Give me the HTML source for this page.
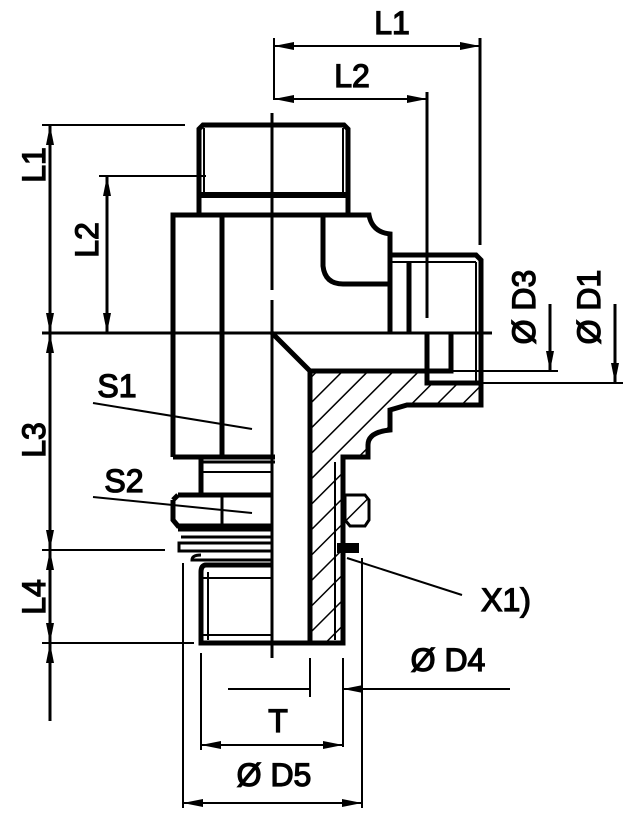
<!DOCTYPE html>
<html><head><meta charset="utf-8"><style>
html,body{margin:0;padding:0;background:#fff}
svg{display:block}
text{font-family:"Liberation Sans",sans-serif;font-size:32px;fill:#000;stroke:#000;stroke-width:1.3}
</style></head><body>
<svg width="629" height="819" viewBox="0 0 629 819" xmlns="http://www.w3.org/2000/svg">
<defs>
<marker id="a" viewBox="0 0 20 8" refX="20" refY="4" markerWidth="20" markerHeight="8" markerUnits="userSpaceOnUse" orient="auto"><path d="M0,0 L20,4 L0,8 z" fill="#000"/></marker>
<pattern id="h" patternUnits="userSpaceOnUse" width="18" height="18" patternTransform="rotate(-45)"><rect width="18" height="18" fill="#fff"/><line x1="0" y1="0" x2="18" y2="0" stroke="#000" stroke-width="3"/></pattern>
</defs>
<g stroke="#000" fill="none">
<line x1="272" y1="113" x2="272" y2="290" stroke-width="3"/>
<line x1="272" y1="300" x2="272" y2="658" stroke-width="3"/>
<line x1="42" y1="333" x2="492" y2="333" stroke-width="3"/>
<line x1="274" y1="38" x2="274" y2="100" stroke-width="2"/>
<line x1="480" y1="38" x2="480" y2="245" stroke-width="3"/>
<line x1="300" y1="46" x2="455" y2="46" stroke-width="2"/>
<line x1="330" y1="46" x2="274" y2="46" stroke-width="2" marker-end="url(#a)"/>
<line x1="420" y1="46" x2="480" y2="46" stroke-width="2" marker-end="url(#a)"/>
<line x1="330" y1="99" x2="274" y2="99" stroke-width="2" marker-end="url(#a)"/>
<line x1="330" y1="99" x2="427" y2="99" stroke-width="2" marker-end="url(#a)"/>
<line x1="427" y1="92" x2="427" y2="318" stroke-width="3"/>
<line x1="42" y1="125" x2="185" y2="125" stroke-width="2"/>
<line x1="99" y1="176" x2="206" y2="176" stroke-width="2"/>
<line x1="50" y1="230" x2="50" y2="125" stroke-width="3" marker-end="url(#a)"/>
<line x1="50" y1="230" x2="50" y2="333" stroke-width="3" marker-end="url(#a)"/>
<line x1="107" y1="250" x2="107" y2="176" stroke-width="3" marker-end="url(#a)"/>
<line x1="107" y1="250" x2="107" y2="333" stroke-width="3" marker-end="url(#a)"/>
<line x1="50" y1="440" x2="50" y2="333" stroke-width="3" marker-end="url(#a)"/>
<line x1="50" y1="440" x2="50" y2="550" stroke-width="3" marker-end="url(#a)"/>
<line x1="50" y1="600" x2="50" y2="550" stroke-width="3" marker-end="url(#a)"/>
<line x1="50" y1="600" x2="50" y2="643" stroke-width="3" marker-end="url(#a)"/>
<line x1="50" y1="721" x2="50" y2="643" stroke-width="3" marker-end="url(#a)"/>
<line x1="42" y1="550" x2="165" y2="550" stroke-width="2"/>
<line x1="42" y1="643" x2="194" y2="643" stroke-width="2"/>
<line x1="444" y1="371" x2="558" y2="371" stroke-width="2"/>
<line x1="454" y1="383" x2="623" y2="383" stroke-width="2"/>
<line x1="550" y1="304" x2="550" y2="371" stroke-width="3" marker-end="url(#a)"/>
<line x1="615" y1="304" x2="615" y2="383" stroke-width="3" marker-end="url(#a)"/>
<path d="M199,213 L199,129 L203,125 L344,125 L348,129 L348,213" stroke-width="5"/>
<line x1="199" y1="195" x2="348" y2="195" stroke-width="6"/>
<line x1="204" y1="128" x2="204" y2="195" stroke-width="2"/>
<line x1="343" y1="128" x2="343" y2="195" stroke-width="2"/>
<path d="M173,457 L173,215 L369,215 Q372,232 390,234 L390,333" stroke-width="5"/>
<line x1="222" y1="215" x2="222" y2="457" stroke-width="5"/>
<path d="M323,215 L323,266 Q325,284 343,284 L390,284" stroke-width="5"/>
<path d="M390,255 L476,255 L481,260 L481,405 L407,405" stroke-width="5"/>
<line x1="390" y1="262" x2="476" y2="262" stroke-width="2"/>
<line x1="409" y1="262" x2="409" y2="333" stroke-width="5"/>
<line x1="476" y1="262" x2="476" y2="400" stroke-width="2"/>
<path d="M427,333 L427,371 L451,371 L451,333" stroke-width="5"/>
<line x1="451" y1="383" x2="481" y2="388" stroke-width="2"/>
<path d="M310,643 L310,371 L427,371 L427,383 L481,383 L481,405 L407,405 L390,410 L390,430 Q368,432 368,445 L368,457 L343,457 L343,643 Z" fill="url(#h)" stroke-width="5"/>
<line x1="335" y1="462" x2="335" y2="640" stroke-width="2"/>
<path d="M272,333 L310,371" stroke-width="5"/>
<line x1="173" y1="457" x2="275" y2="457" stroke-width="5"/>
<line x1="201" y1="462" x2="275" y2="462" stroke-width="3"/>
<line x1="201" y1="457" x2="201" y2="495" stroke-width="5"/>
<line x1="201" y1="472" x2="272" y2="472" stroke-width="2"/>
<path d="M178,495 L272,495 M173,500 L173,520 L178,526 L272,526 M173,500 L178,495" stroke-width="5"/>
<line x1="222" y1="495" x2="222" y2="526" stroke-width="3"/>
<path d="M178,530 L272,530 M181,537 L272,537 M179,543 L272,543 L272,551 L179,551 Z" stroke-width="3"/>
<path d="M201,555 Q192,555 192,560 L272,560" stroke-width="3"/>
<path d="M272,565 L206,565 Q201,565 201,572 L201,643 L310,643" stroke-width="5"/>
<line x1="208" y1="572" x2="208" y2="640" stroke-width="2"/>
<line x1="201" y1="578" x2="272" y2="578" stroke-width="2"/>
<line x1="201" y1="635" x2="272" y2="635" stroke-width="2"/>
<path d="M345,495 L365,495 L369,500 L369,520 L365,526 L350,526 L345,520 Z" fill="url(#h)" stroke-width="3"/>
<path d="M338,544 L358,544 L358,552 L338,552 Z" fill="#000" stroke-width="2"/>
<line x1="93" y1="403" x2="252" y2="429" stroke-width="2"/>
<line x1="93" y1="497" x2="252" y2="513" stroke-width="2"/>
<line x1="347" y1="558" x2="462" y2="595" stroke-width="2"/>
<line x1="310" y1="658" x2="310" y2="697" stroke-width="2"/>
<line x1="343" y1="658" x2="343" y2="747" stroke-width="2"/>
<line x1="201" y1="653" x2="201" y2="750" stroke-width="2"/>
<line x1="183" y1="563" x2="183" y2="808" stroke-width="2"/>
<line x1="362" y1="558" x2="362" y2="808" stroke-width="2"/>
<line x1="228" y1="689" x2="310" y2="689" stroke-width="2"/>
<line x1="510" y1="689" x2="343" y2="689" stroke-width="2" marker-end="url(#a)"/>
<line x1="270" y1="745" x2="201" y2="745" stroke-width="2" marker-end="url(#a)"/>
<line x1="270" y1="745" x2="343" y2="745" stroke-width="2" marker-end="url(#a)"/>
<line x1="270" y1="803" x2="183" y2="803" stroke-width="2" marker-end="url(#a)"/>
<line x1="270" y1="803" x2="362" y2="803" stroke-width="2" marker-end="url(#a)"/>
</g>
<text x="392" y="34" text-anchor="middle">L1</text>
<text x="352" y="87" text-anchor="middle">L2</text>
<text transform="translate(45,165) rotate(-90)" text-anchor="middle">L1</text>
<text transform="translate(98,240) rotate(-90)" text-anchor="middle">L2</text>
<text transform="translate(45,440) rotate(-90)" text-anchor="middle">L3</text>
<text transform="translate(45,597) rotate(-90)" text-anchor="middle">L4</text>
<text transform="translate(535,307) rotate(-90)" text-anchor="middle">Ø D3</text>
<text transform="translate(600,307) rotate(-90)" text-anchor="middle">Ø D1</text>
<text x="117" y="397" text-anchor="middle">S1</text>
<text x="124" y="492" text-anchor="middle">S2</text>
<text x="506" y="611" text-anchor="middle">X1)</text>
<text x="448" y="671" text-anchor="middle">Ø D4</text>
<text x="278" y="732" text-anchor="middle">T</text>
<text x="274" y="786" text-anchor="middle">Ø D5</text>
</svg>
</body></html>
